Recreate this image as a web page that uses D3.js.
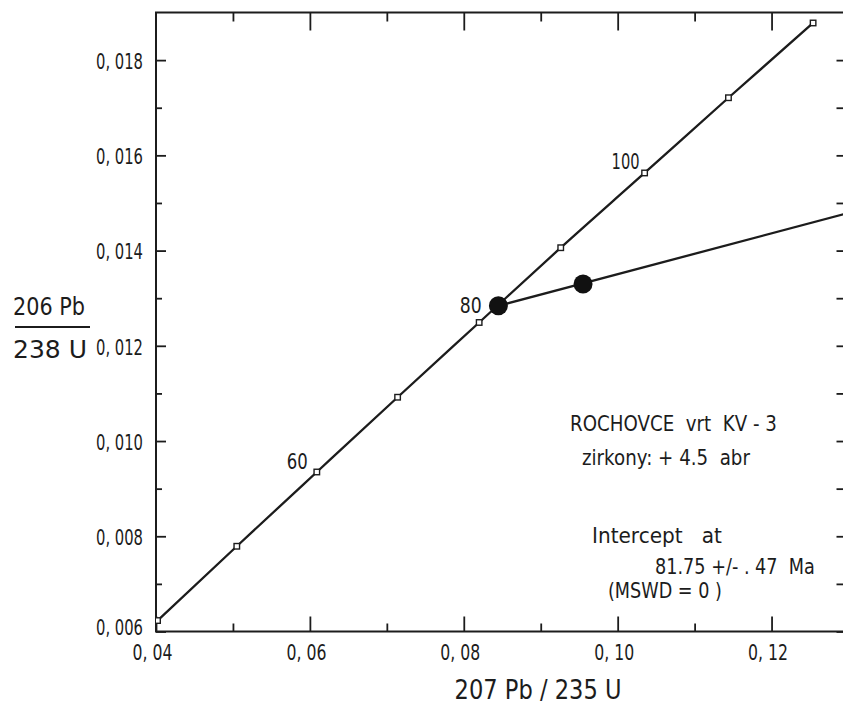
<!DOCTYPE html>
<html>
<head>
<meta charset="utf-8">
<script src="https://cdn.jsdelivr.net/npm/d3@7"></script>
<style>
  html, body { margin: 0; padding: 0; background: #fff; }
  svg { display: block; }
  text {
    font-family: "DejaVu Sans", "Noto Sans", sans-serif;
    fill: #1c1c1c;
    white-space: pre;
  }
</style>
</head>
<body>
<svg id="chart" width="843" height="709"></svg>
<script>
// Concordia reference points: age (Ma), 207Pb/235U, 206Pb/238U
const concordiaAges = [40, 50, 60, 70, 80, 90, 100, 110, 120];
const concordia207 = [0.0402, 0.0505, 0.0609, 0.0714, 0.0820, 0.0926, 0.1035, 0.1144, 0.1254];
const concordia206 = [0.00623, 0.00779, 0.00935, 0.01092, 0.01249, 0.01406, 0.01563, 0.01721, 0.01878];
const labelledAges = [60, 80, 100];

// Zircon fractions and the discordia through them
const sample207 = [0.0845, 0.0955];
const sample206 = [0.01284, 0.01330];
const discordia207 = [0.0845, 0.1300];
const discordia206 = [0.01284, 0.01479];

// Axis ticks
const xMajor = [0.04, 0.06, 0.08, 0.10, 0.12];
const xMajorLabels = ["0, 04", "0, 06", "0, 08", "0, 10", "0, 12"];
const xMinor = [0.05, 0.07, 0.09, 0.11];
const yMajor = [0.006, 0.008, 0.010, 0.012, 0.014, 0.016, 0.018];
const yMajorLabels = ["0, 006", "0, 008", "0, 010", "0, 012", "0, 014", "0, 016", "0, 018"];
const yMinor = [0.007, 0.009, 0.011, 0.013, 0.015, 0.017];

// Annotation block
const noteLines = ["ROCHOVCE  vrt  KV - 3", "zirkony: + 4.5  abr", "Intercept   at", "81.75 +/- . 47  Ma", "(MSWD = 0 )"];

const svg = d3.select("#chart");
const plotLeft = 156, plotRight = 848.5, plotTop = 12.5, plotBottom = 631.5;

const x = d3.scaleLinear().domain([0.04, 0.13]).range([plotLeft, plotRight]);
const y = d3.scaleLinear().domain([0.006, 0.019]).range([plotBottom, plotTop]);

svg.append("defs").append("clipPath").attr("id", "plot-clip")
  .append("rect").attr("x", plotLeft).attr("y", plotTop)
  .attr("width", plotRight - plotLeft).attr("height", plotBottom - plotTop);

const ink = "#1c1c1c";

// Narrow lettering: squeeze each string horizontally to a set width,
// keeping its anchor point where it was
function squeeze(sel, width) {
  sel.each(function (d, i) {
    const node = this;
    const w = typeof width === "function" ? width(d, i) : width;
    const natural = node.getComputedTextLength();
    if (!natural) return;
    const s = w / natural;
    const x0 = +(node.getAttribute("x") || 0);
    node.setAttribute("x", x0 / s);
    const dx = node.getAttribute("dx");
    if (dx) node.setAttribute("dx", (+dx) / s);
    node.setAttribute("transform", `scale(${s},1)`);
  });
}

function styleAxis(g) {
  g.select(".domain").remove();
  g.selectAll(".tick line").attr("stroke", ink).attr("stroke-width", 1.8);
}

function fmtFrom(values, labels) {
  return v => {
    const i = values.findIndex(d => Math.abs(d - v) < 1e-9);
    return i >= 0 ? labels[i] : "";
  };
}

// Bottom axis
svg.append("g").attr("transform", `translate(0,${plotBottom})`)
  .call(d3.axisBottom(x).tickValues(xMinor).tickSizeInner(-8).tickSizeOuter(0).tickFormat(""))
  .call(styleAxis);
const xb = svg.append("g").attr("transform", `translate(0,${plotBottom})`)
  .call(d3.axisBottom(x).tickValues(xMajor).tickSizeInner(-15).tickSizeOuter(0)
    .tickPadding(14).tickFormat(fmtFrom(xMajor, xMajorLabels)))
  .call(styleAxis);
xb.attr("font-family", null);
xb.selectAll(".tick text").attr("font-size", 20.5).attr("dx", -4).attr("fill", ink).call(squeeze, 40);

// Top axis
svg.append("g").attr("transform", `translate(0,${plotTop})`)
  .call(d3.axisTop(x).tickValues(xMinor).tickSizeInner(-9).tickSizeOuter(0).tickFormat(""))
  .call(styleAxis);
svg.append("g").attr("transform", `translate(0,${plotTop})`)
  .call(d3.axisTop(x).tickValues(xMajor.slice(1)).tickSizeInner(-18).tickSizeOuter(0).tickFormat(""))
  .call(styleAxis);

// Left axis
svg.append("g").attr("transform", `translate(${plotLeft},0)`)
  .call(d3.axisLeft(y).tickValues(yMinor).tickSizeInner(-6).tickSizeOuter(0).tickFormat(""))
  .call(styleAxis);
const yl = svg.append("g").attr("transform", `translate(${plotLeft},0)`)
  .call(d3.axisLeft(y).tickValues(yMajor).tickSizeInner(-10).tickSizeOuter(0)
    .tickPadding(13).tickFormat(fmtFrom(yMajor, yMajorLabels)))
  .call(styleAxis);
yl.attr("font-family", null);
yl.selectAll(".tick text").attr("font-size", 21).attr("fill", ink)
  .attr("dy", (d) => Math.abs(d - 0.006) < 1e-9 ? "0.12em" : "0.4em")
  .call(squeeze, 47);

// Right axis
svg.append("g").attr("transform", `translate(${plotRight},0)`)
  .call(d3.axisRight(y).tickValues(yMajor.concat(yMinor)).tickSizeInner(-12).tickSizeOuter(0).tickFormat(""))
  .call(styleAxis);

// Frame
svg.append("rect")
  .attr("x", plotLeft).attr("y", plotTop)
  .attr("width", plotRight - plotLeft).attr("height", plotBottom - plotTop)
  .attr("fill", "none").attr("stroke", ink).attr("stroke-width", 2);

const plot = svg.append("g").attr("clip-path", "url(#plot-clip)");

// Concordia curve
const concordia = concordiaAges.map((a, i) => ({ age: a, r207: concordia207[i], r206: concordia206[i] }));
const line = d3.line().x(d => x(d.r207)).y(d => y(d.r206)).curve(d3.curveMonotoneX);
plot.append("path").datum(concordia)
  .attr("d", line).attr("fill", "none").attr("stroke", ink).attr("stroke-width", 2.3);

// Discordia
const discordia = discordia207.map((v, i) => ({ r207: v, r206: discordia206[i] }));
plot.append("path").datum(discordia)
  .attr("d", d3.line().x(d => x(d.r207)).y(d => y(d.r206)))
  .attr("fill", "none").attr("stroke", ink).attr("stroke-width", 2.3);

// Age markers on the concordia
const ms = 5.5;
plot.selectAll("rect.age").data(concordia).join("rect")
  .attr("class", "age")
  .attr("x", d => x(d.r207) - ms / 2).attr("y", d => y(d.r206) - ms / 2)
  .attr("width", ms).attr("height", ms)
  .attr("fill", "#fff").attr("stroke", ink).attr("stroke-width", 1.4);

// Sample points
const samples = sample207.map((v, i) => ({ r207: v, r206: sample206[i] }));
plot.selectAll("circle.sample").data(samples).join("circle")
  .attr("class", "sample")
  .attr("cx", d => x(d.r207)).attr("cy", d => y(d.r206)).attr("r", 9.5)
  .attr("fill", "#111");

// Age labels
const labelOffset = { 60: [-9, -3], 80: [2.5, -9.5], 100: [-5, -4] };
const labelWidth = { 60: 21, 80: 22, 100: 28 };
svg.selectAll("text.age").data(concordia.filter(d => labelledAges.includes(d.age))).join("text")
  .attr("class", "age")
  .attr("x", d => x(d.r207) + labelOffset[d.age][0])
  .attr("y", d => y(d.r206) + labelOffset[d.age][1])
  .attr("text-anchor", "end").attr("font-size", 21)
  .text(d => d.age)
  .call(squeeze, d => labelWidth[d.age]);

// Axis titles
svg.append("text").attr("x", 538).attr("y", 699).attr("text-anchor", "middle")
  .attr("font-size", 27).text("207 Pb / 235 U").call(squeeze, 167);
svg.append("text").attr("x", 13).attr("y", 315).attr("font-size", 25).text("206 Pb").call(squeeze, 72);
svg.append("line").attr("x1", 15).attr("x2", 90).attr("y1", 327).attr("y2", 327)
  .attr("stroke", ink).attr("stroke-width", 2);
svg.append("text").attr("x", 13).attr("y", 358).attr("font-size", 25).text("238 U").call(squeeze, 74);

// Annotation
const notePos = [[570, 431], [582, 465], [592, 543], [655, 574], [608, 598]];
const noteWidth = [207, 168, 130, 160, 114];
svg.selectAll("text.note").data(noteLines).join("text")
  .attr("class", "note")
  .attr("x", (d, i) => notePos[i][0]).attr("y", (d, i) => notePos[i][1])
  .attr("font-size", 21)
  .text(d => d)
  .call(squeeze, (d, i) => noteWidth[i]);
</script>
</body>
</html>
